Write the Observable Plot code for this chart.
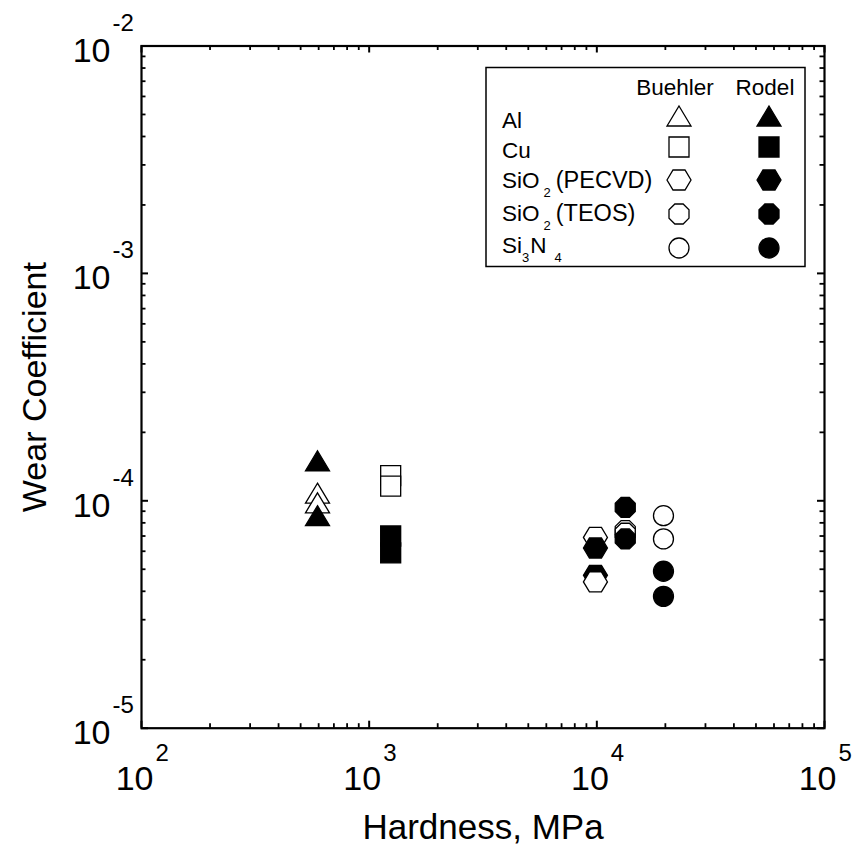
<!DOCTYPE html>
<html><head><meta charset="utf-8">
<script src="https://cdn.jsdelivr.net/npm/d3@7"></script>
<script src="https://cdn.jsdelivr.net/npm/@observablehq/plot@0.6"></script>
<style>
body{margin:0;background:#fff}
#chart{position:relative;width:856px;height:858px}
</style>
</head><body><div id="chart"></div>
<script>
// ---- tick labels (exponents of 10) ----
const xTickExps = [2, 3, 4, 5];
const yTickExps = [-5, -4, -3, -2];

// ---- data: hardness (MPa), wear coefficient, pad ----
const alPoints = [
  {h: 593, k: 1.08e-4, pad: "Buehler"},
  {h: 593, k: 9.8e-5, pad: "Buehler"},
  {h: 593, k: 8.6e-5, pad: "Rodel"},
  {h: 593, k: 1.5e-4, pad: "Rodel"}
];
const cuPoints = [
  {h: 1243, k: 1.29e-4, pad: "Buehler"},
  {h: 1243, k: 1.16e-4, pad: "Buehler"},
  {h: 1243, k: 7.0e-5, pad: "Rodel"},
  {h: 1243, k: 5.9e-5, pad: "Rodel"}
];
const pecvdPoints = [
  {h: 9860, k: 4.7e-5, pad: "Rodel"},
  {h: 9860, k: 4.4e-5, pad: "Buehler"},
  {h: 9860, k: 6.9e-5, pad: "Buehler"},
  {h: 9860, k: 6.2e-5, pad: "Rodel"}
];
const teosPoints = [
  {h: 13330, k: 9.35e-5, pad: "Rodel"},
  {h: 13330, k: 7.4e-5, pad: "Buehler"},
  {h: 13330, k: 7.2e-5, pad: "Buehler"},
  {h: 13330, k: 6.8e-5, pad: "Rodel"}
];
const si3n4Points = [
  {h: 19620, k: 8.6e-5, pad: "Buehler"},
  {h: 19620, k: 6.8e-5, pad: "Buehler"},
  {h: 19620, k: 4.9e-5, pad: "Rodel"},
  {h: 19620, k: 3.8e-5, pad: "Rodel"}
];
const padNames = ["Buehler", "Rodel"];
const materialLabels = ["Al", "Cu", "SiO2(PECVD)", "SiO2(TEOS)", "Si3N4"];

// ---- custom symbols (size = PI r^2, r = 10 -> 20px box) ----
function rad(size){ return Math.sqrt(size / Math.PI); }
const symTriangle = {draw(c, s){ const r = rad(s)/10; c.moveTo(0,-10*r); c.lineTo(12*r,10*r); c.lineTo(-12*r,10*r); c.closePath(); }};
const symSquare = {draw(c, s){ const r = rad(s); c.moveTo(-r,-r); c.lineTo(r,-r); c.lineTo(r,r); c.lineTo(-r,r); c.closePath(); }};
const symHexagon = {draw(c, s){ const r = rad(s)/10; c.moveTo(-12*r,0); c.lineTo(-6*r,-10*r); c.lineTo(6*r,-10*r); c.lineTo(12*r,0); c.lineTo(6*r,10*r); c.lineTo(-6*r,10*r); c.closePath(); }};
const symOctagon = {draw(c, s){ const r = rad(s)/Math.cos(Math.PI/8); for(let i=0;i<8;i++){ const a = Math.PI/8 + i*Math.PI/4; const px = r*Math.cos(a), py = r*Math.sin(a); if(i===0) c.moveTo(px,py); else c.lineTo(px,py);} c.closePath(); }};
const symCircle = {draw(c, s){ const r = rad(s); c.moveTo(r,0); c.arc(0,0,r,0,2*Math.PI); c.closePath(); }};
const materialSymbols = [symTriangle, symSquare, symHexagon, symOctagon, symCircle];

const W = 856, H = 858;
const mL = 141, mR = 32, mT = 45.5, mB = 130.3;
const innerW = W - mL - mR, innerH = H - mT - mB;

// axis ticks (minor + major) within decades
const xMajor = xTickExps.map(e => 10 ** e);
const yMajor = yTickExps.map(e => 10 ** e);
const xMinor = xMajor.slice(0, -1).flatMap(v => [2,3,4,5,6,7,8,9].map(m => m * v));
const yMinor = yMajor.slice(0, -1).flatMap(v => [2,3,4,5,6,7,8,9].map(m => m * v));

const fillOf = d => d.pad === "Rodel" ? "black" : "white";
function dots(data, sym){
  return Plot.dot(data, {x: "h", y: "k", symbol: sym, r: 10, fill: fillOf, stroke: "black", strokeWidth: 1.3});
}

const FONT = "Liberation Sans, Arial, Helvetica, sans-serif";
const plot = Plot.plot({
  width: W, height: H,
  marginLeft: mL, marginRight: mR, marginTop: mT, marginBottom: mB,
  x: {type: "log", domain: [1e2, 1e5], axis: null},
  y: {type: "log", domain: [1e-5, 1e-2], axis: null},
  color: {type: "identity"},
  style: {fontFamily: FONT, background: "white", color: "black", overflow: "visible"},
  marks: [
    // inward ticks, all four sides
    Plot.tickX(xMinor, {x: d => d, insetTop: innerH - 4.5, strokeWidth: 1.8}),
    Plot.tickX(xMinor, {x: d => d, insetBottom: innerH - 4.5, strokeWidth: 1.8}),
    Plot.tickX(xMajor, {x: d => d, insetTop: innerH - 7, strokeWidth: 2}),
    Plot.tickX(xMajor, {x: d => d, insetBottom: innerH - 7, strokeWidth: 2}),
    Plot.tickY(yMinor, {y: d => d, insetRight: innerW - 4.5, strokeWidth: 1.8}),
    Plot.tickY(yMinor, {y: d => d, insetLeft: innerW - 4.5, strokeWidth: 1.8}),
    Plot.tickY(yMajor, {y: d => d, insetRight: innerW - 7, strokeWidth: 2}),
    Plot.tickY(yMajor, {y: d => d, insetLeft: innerW - 7, strokeWidth: 2}),
    Plot.frame({stroke: "black", strokeWidth: 2.2}),
    // x tick labels 10^n
    Plot.text(xTickExps, {x: d => 10 ** d, frameAnchor: "bottom", text: () => "10", textAnchor: "end", lineAnchor: "bottom", dx: 12, dy: 62, fontSize: 34, fill: "black"}),
    Plot.text(xTickExps, {x: d => 10 ** d, frameAnchor: "bottom", text: d => String(d), textAnchor: "start", lineAnchor: "bottom", dx: 14, dy: 33, fontSize: 24, fill: "black"}),
    // y tick labels 10^-n
    Plot.text(yTickExps, {y: d => 10 ** d, frameAnchor: "left", text: () => "10", textAnchor: "end", lineAnchor: "bottom", dx: -31, dy: 16, fontSize: 34, fill: "black"}),
    Plot.text(yTickExps, {y: d => 10 ** d, frameAnchor: "left", text: d => String(d), textAnchor: "start", lineAnchor: "bottom", dx: -29, dy: -15, fontSize: 24, fill: "black"}),
    // axis titles
    Plot.text(["Wear Coefficient"], {frameAnchor: "left", text: d => d, rotate: -90, textAnchor: "middle", lineAnchor: "middle", dx: -106, fontSize: 34, fill: "black"}),
    Plot.text(["Hardness, MPa"], {frameAnchor: "bottom", text: d => d, textAnchor: "middle", lineAnchor: "bottom", dy: 111, fontSize: 35, fill: "black"}),
    // data
    dots(alPoints, symTriangle),
    dots(cuPoints, symSquare),
    dots(pecvdPoints, symHexagon),
    dots(teosPoints, symOctagon),
    dots(si3n4Points, symCircle)
  ]
});
document.getElementById("chart").appendChild(plot);

// ---- legend (inside the frame, top right) ----
const svg = d3.select(plot);
const lg = svg.append("g").attr("font-family", FONT).attr("fill", "black").attr("text-anchor", "start");
lg.append("rect").attr("x", 486).attr("y", 67.5).attr("width", 319).attr("height", 199)
  .attr("fill", "white").attr("stroke", "black").attr("stroke-width", 1.5);
const colX = [679, 769];
const LFS = 22.5;
padNames.forEach((p, i) => {
  lg.append("text").attr("x", colX[i] - 4).attr("y", 95).attr("text-anchor", "middle")
    .attr("font-size", LFS).text(p);
});
const rowSym = [116, 147, 180, 214, 248];
const rowBase = [128, 158, 188, 221, 253];
materialLabels.forEach((lab, i) => {
  const t = lg.append("text").attr("x", 502).attr("y", rowBase[i]).attr("font-size", LFS).attr("text-anchor", "start");
  if (lab.startsWith("SiO2")) {
    t.append("tspan").text("SiO");
    t.append("tspan").attr("font-size", 13).attr("dx", 4).attr("dy", 9).text("2");
    t.append("tspan").attr("dx", 5).attr("dy", -9).attr("font-size", 23.5).text(lab.slice(4));
  } else if (lab === "Si3N4") {
    t.append("tspan").text("Si");
    t.append("tspan").attr("font-size", 13).attr("dy", 9).text("3");
    t.append("tspan").attr("dx", 1).attr("dy", -9).text("N");
    t.append("tspan").attr("font-size", 13).attr("dx", 8).attr("dy", 9).text("4");
  } else {
    t.text(lab);
  }
  padNames.forEach((p, j) => {
    lg.append("path")
      .attr("d", d3.symbol(materialSymbols[i], Math.PI * 100)())
      .attr("transform", `translate(${colX[j]},${rowSym[i]})`)
      .attr("fill", p === "Rodel" ? "black" : "white")
      .attr("stroke", "black").attr("stroke-width", 1.3);
  });
});
</script>
</body></html>
